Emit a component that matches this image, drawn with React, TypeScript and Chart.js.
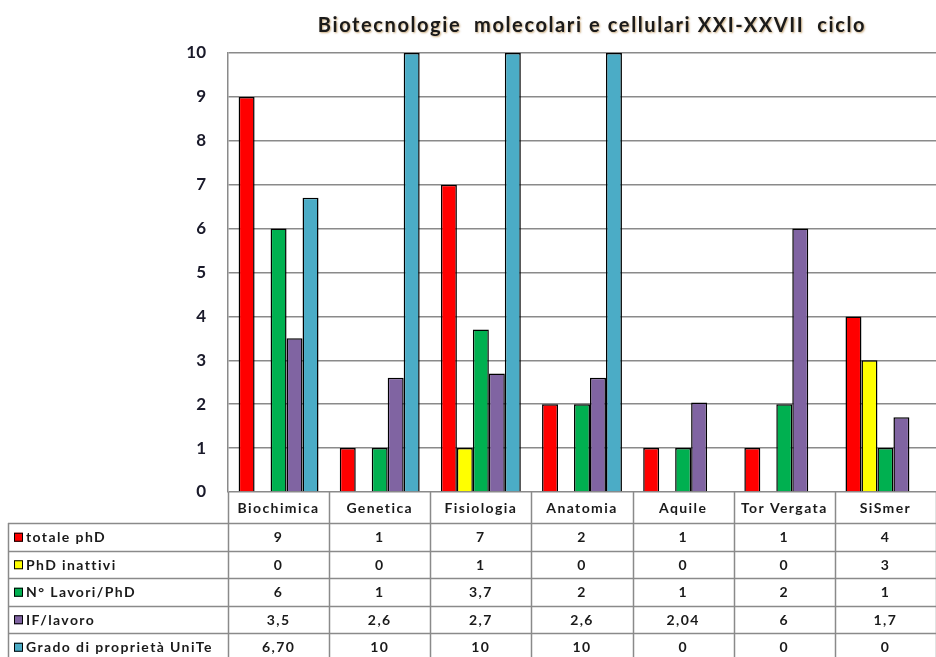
import React, { useEffect, useRef } from "react";
import { Chart, registerables } from "chart.js";

Chart.register(...registerables);

const titleText = "Biotecnologie  molecolari e cellulari XXI-XXVII  ciclo";
const categories = ["Biochimica", "Genetica", "Fisiologia", "Anatomia", "Aquile", "Tor Vergata", "SiSmer"];
const seriesNames = ["totale phD", "PhD inattivi", "N° Lavori/PhD", "IF/lavoro", "Grado di proprietà UniTe"];
const totalePhD = [9, 1, 7, 2, 1, 1, 4];
const phdInattivi = [0, 0, 1, 0, 0, 0, 3];
const lavoriPhD = [6, 1, 3.7, 2, 1, 2, 1];
const ifLavoro = [3.5, 2.6, 2.7, 2.6, 2.04, 6, 1.7];
const gradoProprieta = [6.7, 10, 10, 10, 0, 0, 0];
const seriesDecimals = [0, 0, 0, 0, 2];
const seriesColors = ["#FF0000", "#FFFF00", "#00B050", "#8064A2", "#4BACC6"];
const yTicks = [0, 1, 2, 3, 4, 5, 6, 7, 8, 9, 10];

const allSeries = [totalePhD, phdInattivi, lavoriPhD, ifLavoro, gradoProprieta];

function fmt(v: number, dec: number): string {
  const s = Number.isInteger(v) ? String(v) : dec > 0 ? v.toFixed(dec) : String(v);
  return s.replace(".", ",");
}

const FONT = "Lato, 'Open Sans', sans-serif";
const GRID = "#8a8a8a";

const tablePlugin = {
  id: "dataTable",
  afterDraw(chart: any) {
    const ctx = chart.ctx as CanvasRenderingContext2D;
    const xs = chart.scales.x;
    const area = chart.chartArea;
    const n = categories.length;
    const colW = (area.right - area.left) / n;
    const headTop = area.bottom;
    const headBottom = headTop + 31;
    const rowH = 27.5;
    const bottom = chart.height;
    ctx.save();
    // title
    ctx.save();
    ctx.font = `bold 20px ${FONT}`;
    ctx.fillStyle = "#1a1a1a";
    ctx.textAlign = "center";
    ctx.textBaseline = "alphabetic";
    ctx.shadowColor = "rgba(150,90,0,0.5)";
    ctx.shadowOffsetX = 1;
    ctx.shadowOffsetY = 1;
    ctx.shadowBlur = 2;
    (ctx as any).letterSpacing = "1.6px";
    ctx.fillText(titleText, 592, 31.5);
    ctx.restore();

    ctx.strokeStyle = GRID;
    ctx.lineWidth = 1.5;
    // vertical lines in table
    for (let i = 0; i <= n; i++) {
      const x = Math.round(area.left + i * colW) + 0.5;
      ctx.beginPath();
      ctx.moveTo(x, headTop);
      ctx.lineTo(x, bottom);
      ctx.stroke();
    }
    // left border
    ctx.beginPath();
    ctx.moveTo(8.5, headBottom);
    ctx.lineTo(8.5, bottom);
    ctx.stroke();
    // horizontal lines
    for (let r = 0; r <= seriesNames.length; r++) {
      const y = Math.round(headBottom + r * rowH) + 0.5;
      ctx.beginPath();
      ctx.moveTo(8, y);
      ctx.lineTo(area.right, y);
      ctx.stroke();
    }
    // header
    ctx.fillStyle = "#1a1a1a";
    ctx.textAlign = "center";
    ctx.textBaseline = "middle";
    ctx.font = `bold 14px ${FONT}`;
    (ctx as any).letterSpacing = "1.4px";
    categories.forEach((c, i) => {
      const cx = xs.getPixelForValue(i);
      ctx.fillText(c, cx, (headTop + headBottom) / 2 + 1);
    });
    // rows
    seriesNames.forEach((name, r) => {
      const cy = headBottom + r * rowH + rowH / 2 + 1;
      ctx.fillStyle = seriesColors[r];
      ctx.fillRect(14, cy - 5, 9, 9);
      ctx.strokeStyle = "#000";
      ctx.lineWidth = 1;
      ctx.strokeRect(14.5, cy - 4.5, 8, 8);
      ctx.fillStyle = "#1a1a1a";
      ctx.textAlign = "left";
      ctx.fillText(name, 26, cy);
      ctx.textAlign = "center";
      allSeries[r].forEach((v, i) => {
        ctx.fillText(fmt(v, seriesDecimals[r]), xs.getPixelForValue(i), cy);
      });
    });
    ctx.restore();
  },
};

export default function App() {
  const ref = useRef<HTMLCanvasElement | null>(null);
  useEffect(() => {
    document.body.style.margin = "0";
    const canvas = ref.current!;
    const chart = new Chart(canvas, {
      type: "bar",
      data: {
        labels: categories,
        datasets: allSeries.map((d, i) => ({
          label: seriesNames[i],
          data: d,
          backgroundColor: seriesColors[i],
          borderColor: "#000",
          borderWidth: 1.5,
          categoryPercentage: 0.79,
          barPercentage: 1.0,
        })),
      },
      options: {
        responsive: false,
        animation: false,
        devicePixelRatio: 1,
        layout: { padding: { top: 53, bottom: 165, left: 0, right: 0 } },
        plugins: {
          legend: { display: false },
          title: { display: false },
          tooltip: { enabled: false },
        },
        scales: {
          x: {
            display: false,
            offset: true,
          },
          y: {
            min: 0,
            max: 10,
            afterFit: (s: any) => {
              s.width = 228;
            },
            afterBuildTicks: (s: any) => {
              s.ticks = yTicks.map((v) => ({ value: v }));
            },
            grid: { color: GRID, lineWidth: 1.5, drawTicks: false },
            border: { color: GRID, width: 1.5 },
            ticks: {
              padding: 22,
              color: "#1a1a2a",
              font: { family: FONT, weight: "bold", size: 17 },
            },
          },
        },
      },
      plugins: [tablePlugin],
    });
    return () => chart.destroy();
  }, []);
  return <canvas ref={ref} width={936} height={657} style={{ display: "block" }} />;
}
